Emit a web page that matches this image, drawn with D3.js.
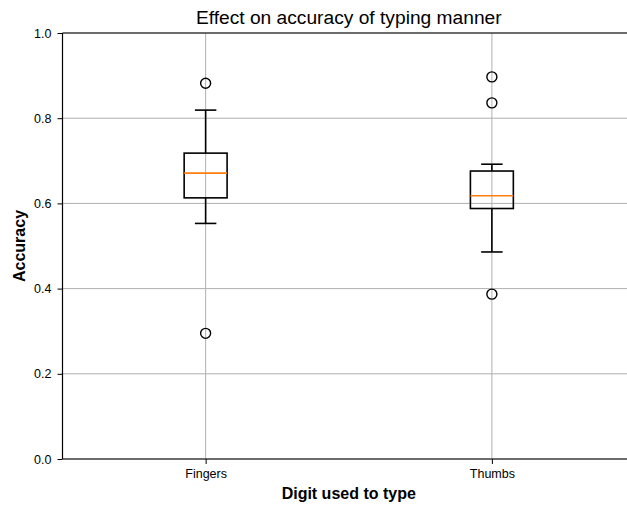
<!DOCTYPE html>
<html lang="en">
<head>
    <meta charset="UTF-8">
    <title>Effect on accuracy of typing manner</title>
    <script src="https://d3js.org/d3.v7.min.js"></script>
    <style>
        body { margin: 0; background: #fff; }
        svg { display: block; font-family: "Liberation Sans", Arial, sans-serif; }
        .grid line { stroke: #b0b0b0; stroke-width: 1; }
        .tick text { font-size: 12.5px; fill: #000; }
    </style>
</head>
<body>
    <svg id="chart" width="627" height="508"></svg>
    <script>
        // data
        const categories = ["Fingers", "Thumbs"];
        const boxStats = [
            { low: 0.553, q1: 0.613, median: 0.671, q3: 0.718, high: 0.819 },
            { low: 0.486, q1: 0.588, median: 0.618, q3: 0.676, high: 0.692 }
        ];
        const outliers = [
            [0.882, 0.295],
            [0.897, 0.836, 0.387]
        ];
        const yTicks = [0.0, 0.2, 0.4, 0.6, 0.8, 1.0];

        const width = 627, height = 508;
        const margin = { left: 62.5, top: 33, right: 635, bottom: 459 };

        const svg = d3.select("#chart");

        // positions 1 and 2 on a 0.5..2.5 axis, like matplotlib does
        const x = d3.scaleLinear().domain([0.5, 2.5]).range([margin.left, margin.right]);
        const y = d3.scaleLinear().domain([0, 1]).range([margin.bottom, margin.top]);
        const boxW = x(0.65) - x(0.5);

        // grid
        const grid = svg.append("g").attr("class", "grid");
        grid.selectAll("line.h")
            .data(yTicks)
            .join("line")
            .attr("class", "h")
            .attr("x1", margin.left).attr("x2", margin.right)
            .attr("y1", d => y(d)).attr("y2", d => y(d));
        grid.selectAll("line.v")
            .data(categories)
            .join("line")
            .attr("class", "v")
            .attr("x1", (d, i) => x(i + 1)).attr("x2", (d, i) => x(i + 1))
            .attr("y1", margin.top).attr("y2", margin.bottom);

        // boxes
        const box = svg.selectAll("g.box")
            .data(boxStats)
            .join("g")
            .attr("class", "box")
            .attr("transform", (d, i) => `translate(${x(i + 1)},0)`);

        box.append("line")
            .attr("x1", 0).attr("x2", 0)
            .attr("y1", d => y(d.q3)).attr("y2", d => y(d.high))
            .attr("stroke", "#000").attr("stroke-width", 1.6);
        box.append("line")
            .attr("x1", 0).attr("x2", 0)
            .attr("y1", d => y(d.q1)).attr("y2", d => y(d.low))
            .attr("stroke", "#000").attr("stroke-width", 1.6);
        box.append("line")
            .attr("x1", -boxW / 4).attr("x2", boxW / 4)
            .attr("y1", d => y(d.high)).attr("y2", d => y(d.high))
            .attr("stroke", "#000").attr("stroke-width", 1.6);
        box.append("line")
            .attr("x1", -boxW / 4).attr("x2", boxW / 4)
            .attr("y1", d => y(d.low)).attr("y2", d => y(d.low))
            .attr("stroke", "#000").attr("stroke-width", 1.6);
        box.append("rect")
            .attr("x", -boxW / 2)
            .attr("width", boxW)
            .attr("y", d => y(d.q3))
            .attr("height", d => y(d.q1) - y(d.q3))
            .attr("fill", "none")
            .attr("stroke", "#000").attr("stroke-width", 1.6);
        box.append("line")
            .attr("x1", -boxW / 2).attr("x2", boxW / 2)
            .attr("y1", d => y(d.median)).attr("y2", d => y(d.median))
            .attr("stroke", "#ff7f0e").attr("stroke-width", 1.6);

        box.selectAll("circle")
            .data((d, i) => outliers[i])
            .join("circle")
            .attr("cx", 0)
            .attr("cy", d => y(d))
            .attr("r", 5)
            .attr("fill", "none")
            .attr("stroke", "#000")
            .attr("stroke-width", 1.4);

        // axes
        const yAxis = svg.append("g")
            .attr("transform", `translate(${margin.left},0)`)
            .call(d3.axisLeft(y).tickValues(yTicks).tickFormat(d3.format(".1f")).tickSize(5).tickPadding(6));
        const xAxis = svg.append("g")
            .attr("transform", `translate(0,${margin.bottom})`)
            .call(d3.axisBottom(x).tickValues([1, 2]).tickFormat((d, i) => categories[i]).tickSize(5).tickPadding(5));
        [yAxis, xAxis].forEach(a => {
            a.select(".domain").remove();
            a.selectAll(".tick line").attr("stroke", "#000").attr("stroke-width", 1);
        });

        // spines: left, bottom, top (right edge falls outside the picture)
        svg.append("line")
            .attr("x1", margin.left).attr("x2", margin.left)
            .attr("y1", margin.top).attr("y2", margin.bottom)
            .attr("stroke", "#000").attr("stroke-width", 1.2);
        svg.append("line")
            .attr("x1", margin.left).attr("x2", margin.right)
            .attr("y1", margin.bottom).attr("y2", margin.bottom)
            .attr("stroke", "#000").attr("stroke-width", 1.2);
        svg.append("line")
            .attr("x1", margin.left).attr("x2", margin.right)
            .attr("y1", margin.top).attr("y2", margin.top)
            .attr("stroke", "#000").attr("stroke-width", 1.2);

        // labels
        const cx = (margin.left + margin.right) / 2;
        svg.append("text")
            .attr("x", cx).attr("y", 24)
            .attr("text-anchor", "middle")
            .attr("font-size", 19.2)
            .text("Effect on accuracy of typing manner");
        svg.append("text")
            .attr("x", cx).attr("y", 499)
            .attr("text-anchor", "middle")
            .attr("font-size", 16)
            .attr("font-weight", "bold")
            .text("Digit used to type");
        svg.append("text")
            .attr("transform", `translate(25,${(margin.top + margin.bottom) / 2}) rotate(-90)`)
            .attr("text-anchor", "middle")
            .attr("font-size", 16)
            .attr("font-weight", "bold")
            .text("Accuracy");
    </script>
</body>
</html>
